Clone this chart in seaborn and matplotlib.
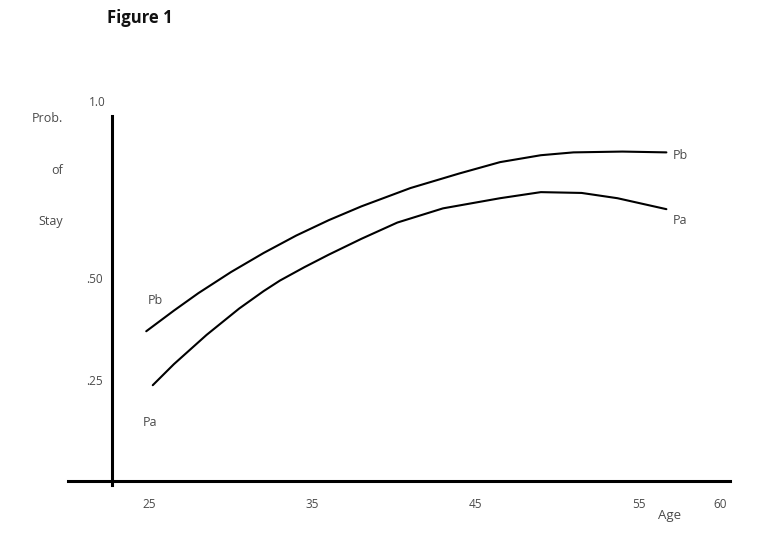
"""Recreate the 'Figure 1' probability-of-stay curves (Pa / Pb vs age)."""

import matplotlib
matplotlib.use("Agg")
import matplotlib.pyplot as plt
import pandas as pd
import seaborn as sns

# ---------------------------------------------------------------------------
# Values
# ---------------------------------------------------------------------------
PB_AGE = [24.8, 26.5, 28.0, 30.0, 32.0, 34.0, 36.0, 38.0, 41.0, 44.0, 46.5, 49.0, 51.0, 54.0, 56.7]
PB_PROB = [0.369, 0.420, 0.463, 0.515, 0.562, 0.605, 0.643, 0.677, 0.722, 0.758, 0.786, 0.803, 0.810, 0.812, 0.810]

PA_AGE = [25.2, 26.5, 28.5, 30.5, 32.0, 33.0, 34.5, 36.0, 38.0, 40.2, 43.0, 46.5, 49.0, 51.5, 53.7, 56.7]
PA_PROB = [0.236, 0.288, 0.360, 0.425, 0.468, 0.494, 0.527, 0.558, 0.597, 0.637, 0.672, 0.697, 0.712, 0.710, 0.697, 0.670]

X_TICKS = [25, 35, 45, 55, 60]
X_TICK_LABELS = ["25", "35", "45", "55", "60"]
Y_TICKS = [0.25, 0.50]
Y_TICK_LABELS = [".25", ".50"]

df = pd.concat(
    [
        pd.DataFrame({"age": PB_AGE, "prob": PB_PROB, "curve": "Pb"}),
        pd.DataFrame({"age": PA_AGE, "prob": PA_PROB, "curve": "Pa"}),
    ],
    ignore_index=True,
)

sns.set_theme(style="white")
plt.rcParams["font.family"] = ["Open Sans", "DejaVu Sans"]

TXT = "#4a4a4a"

fig = plt.figure(figsize=(7.68, 5.34), dpi=100)
ax = fig.add_axes([0.0885, 0.0918, 0.862, 0.6912])

sns.lineplot(
    data=df,
    x="age",
    y="prob",
    hue="curve",
    palette={"Pb": "black", "Pa": "black"},
    linewidth=1.5,
    legend=False,
    sort=False,
    estimator=None,
    ax=ax,
)

ax.set_xlim(20, 60.6)
ax.set_ylim(-0.01, 0.9)

# axis lines: y axis sits just left of age 25, x axis at prob 0
ax.spines["left"].set_position(("data", 22.67))
ax.spines["bottom"].set_position(("data", 0))
for side in ["top", "right"]:
    ax.spines[side].set_visible(False)
for side in ["left", "bottom"]:
    ax.spines[side].set_color("black")
    ax.spines[side].set_linewidth(2.2)

ax.set_xticks(X_TICKS, X_TICK_LABELS)
ax.set_yticks(Y_TICKS, Y_TICK_LABELS)
ax.tick_params(axis="x", length=0, pad=12, labelsize=8.5, labelcolor=TXT)
ax.tick_params(axis="y", length=0, pad=6, labelsize=8.5, labelcolor=TXT)
ax.set_xlabel("")
ax.set_ylabel("")
ax.grid(False)

# "1.0" label at the top of the y axis
ax.text(22.3, 0.933, "1.0", ha="right", va="center", fontsize=8.5, color=TXT)

# curve labels
ax.text(24.9, 0.446, "Pb", ha="left", va="center", fontsize=9, color=TXT)
ax.text(24.6, 0.143, "Pa", ha="left", va="center", fontsize=9, color=TXT)
ax.text(57.1, 0.803, "Pb", ha="left", va="center", fontsize=9, color=TXT)
ax.text(57.1, 0.643, "Pa", ha="left", va="center", fontsize=9, color=TXT)

# axis titles
ax.text(56.9, -0.086, "Age", ha="center", va="center", fontsize=9.5, color=TXT)
fig.text(63 / 768, 1 - 119 / 534, "Prob.", ha="right", va="center", fontsize=9, color=TXT)
fig.text(63 / 768, 1 - 170 / 534, "of", ha="right", va="center", fontsize=9, color=TXT)
fig.text(63 / 768, 1 - 222 / 534, "Stay", ha="right", va="center", fontsize=9, color=TXT)

fig.text(107 / 768, 1 - 18 / 534, "Figure 1", ha="left", va="center",
         fontsize=12, fontweight="bold", color="#111111")

fig.savefig("out.png", dpi=100)
plt.close(fig)
